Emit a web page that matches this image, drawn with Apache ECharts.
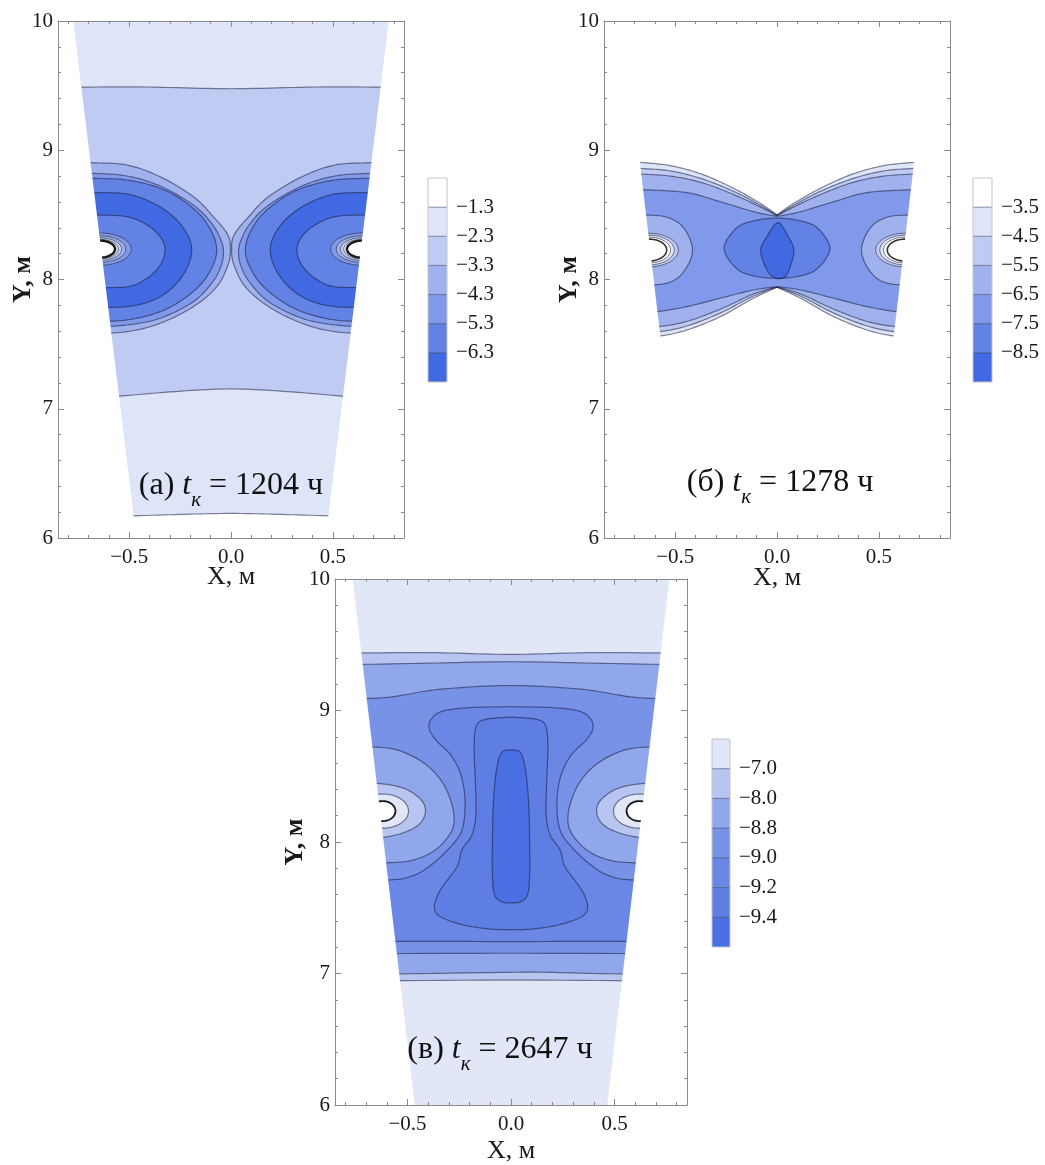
<!DOCTYPE html>
<html><head><meta charset="utf-8">
<script src="https://cdn.jsdelivr.net/npm/echarts@6/dist/echarts.min.js"></script>
<style>html,body{margin:0;padding:0;background:#fff}#c{width:1045px;height:1165px}</style>
</head><body><div id="c"></div>
<script>
// ---------------- tick values ----------------
const xMajor = [-0.5, 0, 0.5];
const xMinor = [-0.8,-0.7,-0.6,-0.4,-0.3,-0.2,-0.1,0.1,0.2,0.3,0.4,0.6,0.7,0.8];
const yMajor = [6, 7, 8, 9, 10];
const yMinor = [6.2,6.4,6.6,6.8,7.2,7.4,7.6,7.8,8.2,8.4,8.6,8.8,9.2,9.4,9.6,9.8];

// ---------------- captions ----------------
const capLetters = ['(а)', '(б)', '(в)'];
const capHours = [1204, 1278, 2647];

// ---------------- panel (а) ----------------
const aLevels = [-1.3, -2.3, -3.3, -4.3, -5.3, -6.3];
const aColors = ['#ffffff','#dfe5f9','#bfcbf3','#a0b2ee','#8199ea','#6282e5','#4169e1'];
const aEdge = [[-0.775, 10], [-0.465, 6]];
const aTopLine = [[-0.9,9.486],[-0.45,9.49],[0,9.476],[0.45,9.49],[0.9,9.486]];
const aMidLine = [[-0.7,7.075],[-0.3,7.13],[0,7.153],[0.3,7.13],[0.7,7.075]];
const aBotLine = [[-0.62,6.163],[-0.3,6.18],[0,6.19],[0.3,6.18],[0.62,6.163]];
const aEye1 = [[-0.8,8.92],[-0.683,8.904],[-0.511,8.886],[-0.348,8.795],[-0.185,8.641],[-0.087,8.486],[-0.015,8.344],[-0.003,8.228],[-0.015,8.112],[-0.07,7.944],[-0.185,7.79],[-0.348,7.661],[-0.511,7.596],[-0.7,7.58]];
const aEye2 = [[-0.8,8.83],[-0.68,8.822],[-0.511,8.801],[-0.348,8.723],[-0.185,8.576],[-0.095,8.435],[-0.048,8.3],[-0.037,8.2],[-0.052,8.09],[-0.095,7.971],[-0.185,7.828],[-0.348,7.70],[-0.511,7.648],[-0.7,7.63]];
const aEye3 = [[-0.8,8.79],[-0.675,8.783],[-0.511,8.77],[-0.348,8.706],[-0.217,8.59],[-0.119,8.435],[-0.07,8.228],[-0.119,8.022],[-0.217,7.867],[-0.348,7.751],[-0.511,7.687],[-0.7,7.675]];
const aEye4 = [[-0.8,8.675],[-0.67,8.672],[-0.511,8.662],[-0.381,8.59],[-0.283,8.486],[-0.217,8.357],[-0.193,8.228],[-0.217,8.087],[-0.283,7.944],[-0.381,7.841],[-0.511,7.79],[-0.7,7.785]];
const aEye5 = [[-0.8,8.5],[-0.662,8.499],[-0.511,8.486],[-0.413,8.422],[-0.348,8.331],[-0.324,8.228],[-0.348,8.112],[-0.413,8.009],[-0.511,7.944],[-0.7,7.94]];
// well rings: [cx, cy, rx, ry]
const aWell = [[-0.645,8.235,0.155,0.125],[-0.645,8.235,0.128,0.103],[-0.645,8.235,0.108,0.088],[-0.645,8.235,0.091,0.076],[-0.645,8.235,0.075,0.066]];

// ---------------- panel (б) ----------------
const bLevels = [-3.5, -4.5, -5.5, -6.5, -7.5, -8.5];
const bColors = ['#ffffff','#dfe5f9','#bfcbf3','#a0b2ee','#8199ea','#6282e5','#4169e1'];
const bEdge = [[-0.755, 10], [-0.457, 6]];
const bU1 = [[-0.8,8.92],[-0.676,8.907],[-0.525,8.881],[-0.37,8.815],[-0.214,8.706],[-0.083,8.59],[0,8.5]];
const bU2 = [[-0.8,8.87],[-0.675,8.86],[-0.525,8.84],[-0.37,8.78],[-0.21,8.68],[-0.083,8.575],[0,8.497]];
const bU3 = [[-0.8,8.825],[-0.675,8.816],[-0.525,8.80],[-0.37,8.75],[-0.21,8.655],[-0.083,8.562],[0,8.495]];
const bU4 = [[-0.8,8.70],[-0.66,8.695],[-0.443,8.672],[-0.279,8.602],[-0.116,8.525],[0,8.488]];
const bD1 = [[-0.7,7.555],[-0.574,7.563],[-0.443,7.609],[-0.279,7.712],[-0.116,7.855],[0,7.94]];
const bD2 = [[-0.7,7.59],[-0.58,7.596],[-0.443,7.64],[-0.279,7.74],[-0.116,7.872],[0,7.941]];
const bD3 = [[-0.7,7.63],[-0.585,7.635],[-0.443,7.675],[-0.279,7.77],[-0.116,7.888],[0,7.943]];
const bD4 = [[-0.7,7.745],[-0.59,7.751],[-0.443,7.79],[-0.279,7.855],[-0.116,7.919],[0,7.944]];
const bWellArc = [[-0.75,8.5],[-0.655,8.499],[-0.541,8.482],[-0.459,8.4],[-0.415,8.228],[-0.459,8.059],[-0.541,7.972],[-0.7,7.955]];
const bWell = [[-0.63,8.228,0.145,0.13],[-0.63,8.228,0.125,0.115],[-0.63,8.228,0.107,0.1],[-0.63,8.228,0.088,0.085]];
const bEll = [[-0.26,8.241],[-0.2,8.396],[-0.116,8.453],[0,8.475],[0.116,8.453],[0.2,8.396],[0.26,8.241],[0.2,8.087],[0.116,8.028],[0,8.009],[-0.116,8.028],[-0.2,8.087]];
const bCore = [[0.005,8.44],[0.055,8.331],[0.083,8.228],[0.065,8.099],[0.036,8.017],[-0.017,8.017],[-0.057,8.099],[-0.08,8.228],[-0.05,8.331]];

// ---------------- panel (в) ----------------
const vLevels = [-7.0, -8.0, -8.8, -9.0, -9.2, -9.4];
const vColors = ['#e2e7f8','#b8c5f1','#91a7eb','#7892e7','#6a87e6','#5e7ee4','#4a6fe2'];
const vEdge = [[-0.765, 10], [-0.465, 6]];
const vTop1 = [[-0.9,9.435],[-0.4,9.44],[0,9.427],[0.4,9.44],[0.9,9.435]];
const vTop2 = [[-0.9,9.345],[-0.4,9.36],[0,9.371],[0.4,9.36],[0.9,9.345]];
const vTop3 = [[-0.9,9.08],[-0.6,9.1],[-0.35,9.16],[0,9.19],[0.35,9.16],[0.6,9.1],[0.9,9.08]];
const vBot1 = [[-0.9,7.24],[-0.4,7.245],[0,7.242],[0.4,7.245],[0.9,7.24]];
const vBot2 = [[-0.9,7.15],[0,7.154],[0.9,7.15]];
const vBot3 = [[-0.9,6.99],[-0.4,7.0],[0.1,7.01],[0.4,7.0],[0.9,6.99]];
const vBot4 = [[-0.9,6.94],[0,6.95],[0.9,6.94]];
const vHg = [[-0.8,7.71],[-0.58,7.712],[-0.48,7.74],[-0.398,7.81],[-0.3,7.95],[-0.237,8.09],[-0.222,8.3],[-0.24,8.5],[-0.29,8.66],[-0.36,8.77],[-0.395,8.86],[-0.385,8.935],[-0.33,8.995],[-0.2,9.022],[0,9.029]];
const vIn = [[0,8.95],[-0.13,8.93],[-0.17,8.87],[-0.178,8.7],[-0.172,8.45],[-0.17,8.2],[-0.19,8.05],[-0.237,7.94],[-0.261,7.812],[-0.341,7.635],[-0.37,7.508],[-0.341,7.432],[-0.229,7.369],[-0.1,7.338],[0,7.333]];
const vCol = [[0,8.70],[-0.045,8.68],[-0.07,8.55],[-0.085,8.3],[-0.09,8.0],[-0.09,7.75],[-0.08,7.6],[-0.045,7.545],[0,7.536]];
const vW1 = [[-0.8,8.73],[-0.69,8.725],[-0.55,8.70],[-0.42,8.6],[-0.33,8.45],[-0.28,8.25],[-0.285,8.09],[-0.365,7.94],[-0.48,7.86],[-0.62,7.84],[-0.75,7.835]];
const vW2 = [[-0.75,8.45],[-0.64,8.446],[-0.52,8.41],[-0.44,8.33],[-0.413,8.24],[-0.44,8.14],[-0.52,8.07],[-0.64,8.03],[-0.75,8.03]];
const vWell = [[-0.62,8.235,0.125,0.13],[-0.62,8.235,0.062,0.076]];

// ---------------- helpers ----------------
const FONT = 'Liberation Serif';
const LINE = 'rgba(25,30,60,0.55)';
const FRAME = '#8a8a8a';
function fmt1(v) { return (v < 0 ? '\u2212' : '') + Math.abs(v).toFixed(1); }
function mx(p) { return p.map(q => [-q[0], q[1]]); }
function rv(p) { return p.slice().reverse(); }

function crPts(px, closed, n) {
  const m = px.length;
  if (m < 3 && !closed) return px.slice();
  const get = i => closed ? px[(i + m) % m] : px[Math.max(0, Math.min(m - 1, i))];
  const segs = closed ? m : m - 1;
  const out = [];
  for (let i = 0; i < segs; i++) {
    const p0 = get(i - 1), p1 = get(i), p2 = get(i + 1), p3 = get(i + 2);
    for (let k = 0; k < n; k++) {
      const t = k / n, t2 = t * t, t3 = t2 * t;
      const f = (a, b, c, d) => 0.5 * (2 * b + (-a + c) * t + (2 * a - 5 * b + 4 * c - d) * t2 + (-a + 3 * b - 3 * c + d) * t3);
      out.push([f(p0[0], p1[0], p2[0], p3[0]), f(p0[1], p1[1], p2[1], p3[1])]);
    }
  }
  if (!closed) out.push(px[m - 1]);
  return out;
}
function shapePts(api, s) {
  if (s.ell) {
    const [cx, cy, rx, ry] = s.ell;
    const c = api.coord([cx, cy]), r = api.coord([cx + rx, cy + ry]);
    const RX = r[0] - c[0], RY = c[1] - r[1];
    const pts = [];
    for (let k = 0; k < 72; k++) { const a = k / 72 * Math.PI * 2; pts.push([c[0] + RX * Math.cos(a), c[1] + RY * Math.sin(a)]); }
    return pts;
  }
  if (s.loop) return crPts(s.loop.map(p => api.coord(p)), true, 12);
  let out = [];
  s.pieces.forEach(pc => { out = out.concat(crPts(pc.map(p => api.coord(p)), false, 12)); });
  return out;
}
function closedSpec(s) { return !!(s.ell || s.loop); }
function edgeMasks(edge) {
  const l = [[-1.3, edge[0][1]], edge[0], edge[1], [-1.3, edge[1][1]]];
  return [l, mx(l)];
}
function panelRender(fills, lines, masks) {
  return function (params, api) {
    const ch = [];
    fills.forEach(f => ch.push({ type: 'polygon', shape: { points: shapePts(api, f.s) }, style: { fill: f.c, stroke: 'none' } }));
    lines.forEach(l => ch.push({ type: closedSpec(l.s) ? 'polygon' : 'polyline', shape: { points: shapePts(api, l.s) },
      style: { fill: 'none', stroke: l.k || LINE, lineWidth: l.w || 1.2 } }));
    masks.forEach(mk => ch.push({ type: 'polygon', shape: { points: mk.map(p => api.coord(p)) }, style: { fill: '#ffffff', stroke: 'none' } }));
    return { type: 'group', children: ch };
  };
}
const bigTop = [[-1.2, 10.4], [1.2, 10.4]];

// ---- panel (а) layers ----
const aFills = [{ c: aColors[1], s: { pieces: [bigTop, rv(aBotLine)] } },
                { c: aColors[2], s: { pieces: [aTopLine, rv(aMidLine)] } }];
const aLines = [{ s: { pieces: [aTopLine] } }, { s: { pieces: [aMidLine] } }, { s: { pieces: [aBotLine] } }];
[p => p, mx].forEach(side => {
  [[aEye1, 3], [aEye2, 4], [aEye3, 5], [aEye4, 6], [aEye5, 5]].forEach(([e, k]) => {
    aFills.push({ c: aColors[k], s: { pieces: [side(e)] } });
    aLines.push({ s: { pieces: [side(e)] } });
  });
  aWell.forEach((w, i) => {
    const e = side === mx ? [-w[0], w[1], w[2], w[3]] : w;
    aFills.push({ c: aColors[4 - i], s: { ell: e } });
    aLines.push({ s: { ell: e }, k: i === 4 ? '#1a1a1a' : 'rgba(40,40,50,0.6)', w: i === 4 ? 2.4 : 1 });
  });
});

// ---- panel (б) layers ----
const bFills = [], bLines = [];
[[bU1, bD1, 1], [bU2, bD2, 2], [bU3, bD3, 3], [bU4, bD4, 4]].forEach(([u, d, k]) => {
  bFills.push({ c: bColors[k], s: { pieces: [u, rv(mx(u)), mx(d), rv(d)] } });
  bLines.push({ s: { pieces: [u, rv(mx(u))] } }, { s: { pieces: [d, rv(mx(d))] } });
});
[p => p, mx].forEach(side => {
  bFills.push({ c: bColors[3], s: { pieces: [side(bWellArc)] } });
  bLines.push({ s: { pieces: [side(bWellArc)] } });
  bWell.forEach((w, i) => {
    const e = side === mx ? [-w[0], w[1], w[2], w[3]] : w;
    bFills.push({ c: bColors[Math.max(0, 2 - i)], s: { ell: e } });
    bLines.push({ s: { ell: e }, k: i === 3 ? '#333' : 'rgba(40,40,50,0.6)', w: i === 3 ? 1.6 : 1 });
  });
});
bFills.push({ c: bColors[5], s: { loop: bEll } }, { c: bColors[6], s: { loop: bCore } });
bLines.push({ s: { loop: bEll } }, { s: { loop: bCore } });

// ---- panel (в) layers ----
const vFills = [
  { c: vColors[0], s: { pieces: [bigTop, [[1.2, 5.6], [-1.2, 5.6]]] } },
  { c: vColors[1], s: { pieces: [vTop1, rv(vBot4)] } },
  { c: vColors[2], s: { pieces: [vTop2, rv(vBot3)] } },
  { c: vColors[3], s: { pieces: [vTop3, rv(vBot2)] } },
  { c: vColors[4], s: { pieces: [vHg, rv(mx(vHg)), rv(vBot1)] } },
  { c: vColors[5], s: { pieces: [vIn, rv(mx(vIn))] } },
  { c: vColors[6], s: { pieces: [vCol, rv(mx(vCol))] } }
];
const vLines = [vTop1, vTop2, vTop3, vBot1, vBot2, vBot3, vBot4].map(l => ({ s: { pieces: [l] } }));
vLines.push({ s: { pieces: [vHg, rv(mx(vHg))] } }, { s: { pieces: [vIn, rv(mx(vIn))] } }, { s: { pieces: [vCol, rv(mx(vCol))] } });
[p => p, mx].forEach(side => {
  vFills.push({ c: vColors[2], s: { pieces: [side(vW1)] } }, { c: vColors[1], s: { pieces: [side(vW2)] } });
  vLines.push({ s: { pieces: [side(vW1)] } }, { s: { pieces: [side(vW2)] } });
  vWell.forEach((w, i) => {
    const e = side === mx ? [-w[0], w[1], w[2], w[3]] : w;
    vFills.push({ c: i === 0 ? vColors[0] : '#ffffff', s: { ell: e } });
    vLines.push({ s: { ell: e }, k: i === 1 ? '#1a1a1a' : LINE, w: i === 1 ? 1.8 : 1.2 });
  });
});

// ---------------- axes ----------------
const labelStyle = { fontFamily: FONT, fontSize: 21, color: '#1a1a1a' };
function frameAxes(gi, gapX, gapY) {
  const ls = { color: FRAME, width: 1 };
  const base = { gridIndex: gi, type: 'value', splitLine: { show: false }, z: 10 };
  const xb = Object.assign({}, base, { min: -0.85, max: 0.85 });
  const yb = Object.assign({}, base, { min: 6, max: 10 });
  const xs = [
    Object.assign({}, xb, { position: 'bottom', axisLine: { show: true, onZero: false, lineStyle: ls },
      axisTick: { inside: true, length: 6, customValues: xMajor, lineStyle: ls },
      axisLabel: Object.assign({ customValues: xMajor, formatter: fmt1, margin: 9 }, labelStyle),
      name: 'X, м', nameLocation: 'middle', nameGap: gapX, nameMoveOverlap: false,
      nameTextStyle: { fontFamily: FONT, fontSize: 26, color: '#1a1a1a' } }),
    Object.assign({}, xb, { position: 'bottom', axisLine: { show: false, onZero: false }, axisTick: { inside: true, length: 3, customValues: xMinor, lineStyle: ls }, axisLabel: { show: false } }),
    Object.assign({}, xb, { position: 'top', axisLine: { show: true, onZero: false, lineStyle: ls }, axisTick: { inside: true, length: 6, customValues: xMajor, lineStyle: ls }, axisLabel: { show: false } }),
    Object.assign({}, xb, { position: 'top', axisLine: { show: false, onZero: false }, axisTick: { inside: true, length: 3, customValues: xMinor, lineStyle: ls }, axisLabel: { show: false } })
  ];
  const ys = [
    Object.assign({}, yb, { position: 'left', axisLine: { show: true, onZero: false, lineStyle: ls },
      axisTick: { inside: true, length: 6, customValues: yMajor, lineStyle: ls },
      axisLabel: Object.assign({ customValues: yMajor, formatter: v => String(v), margin: 5 }, labelStyle),
      name: 'Y, м', nameLocation: 'middle', nameGap: gapY, nameMoveOverlap: false,
      nameTextStyle: { fontFamily: FONT, fontSize: 26, fontWeight: 'bold', color: '#1a1a1a' } }),
    Object.assign({}, yb, { position: 'left', axisLine: { show: false, onZero: false }, axisTick: { inside: true, length: 3, customValues: yMinor, lineStyle: ls }, axisLabel: { show: false } }),
    Object.assign({}, yb, { position: 'right', axisLine: { show: true, onZero: false, lineStyle: ls }, axisTick: { inside: true, length: 6, customValues: yMajor, lineStyle: ls }, axisLabel: { show: false } }),
    Object.assign({}, yb, { position: 'right', axisLine: { show: false, onZero: false }, axisTick: { inside: true, length: 3, customValues: yMinor, lineStyle: ls }, axisLabel: { show: false } })
  ];
  return { xs, ys };
}
function cbAxes(gi, levels) {
  return {
    x: { gridIndex: gi, type: 'value', min: 0, max: 1, show: false },
    y: { gridIndex: gi, type: 'value', min: 0, max: 7, inverse: true, position: 'right',
      axisLine: { show: false }, axisTick: { show: false }, splitLine: { show: false },
      axisLabel: Object.assign({ customValues: [1, 2, 3, 4, 5, 6], formatter: v => fmt1(levels[v - 1]), margin: 9 }, labelStyle) }
  };
}
function cbRender(colors) {
  return function (params, api) {
    const i = api.value(1);
    const p0 = api.coord([0, i]), p1 = api.coord([1, i + 1]);
    const ch = [{ type: 'rect', shape: { x: p0[0], y: Math.min(p0[1], p1[1]), width: p1[0] - p0[0], height: Math.abs(p1[1] - p0[1]) }, style: { fill: colors[i] } }];
    if (i > 0) ch.push({ type: 'line', shape: { x1: p0[0], y1: p0[1], x2: p1[0], y2: p0[1] }, style: { stroke: 'rgba(40,45,70,0.5)', lineWidth: 1 } });
    if (i === colors.length - 1) {
      const q0 = api.coord([0, 0]);
      ch.push({ type: 'rect', shape: { x: q0[0], y: Math.min(q0[1], p1[1]), width: p1[0] - q0[0], height: Math.abs(p1[1] - q0[1]) }, style: { fill: 'none', stroke: '#c4c4c4', lineWidth: 1 } });
    }
    return { type: 'group', children: ch };
  };
}

const fA = frameAxes(0, 26, 22), fB = frameAxes(1, 27, 22), fV = frameAxes(2, 33, 27);
const cA = cbAxes(3, aLevels), cB = cbAxes(4, bLevels), cV = cbAxes(5, vLevels);

function caption(i, x, y) {
  return { type: 'text', x: x, y: y, z: 20,
    style: { text: '{n|' + capLetters[i] + ' }{i|t}{s|к}{n| = ' + capHours[i] + ' ч}', align: 'center', verticalAlign: 'middle',
      rich: { n: { fontFamily: FONT, fontSize: 32, lineHeight: 50, fill: '#111' },
              i: { fontFamily: FONT, fontSize: 32, fontStyle: 'italic', lineHeight: 50, fill: '#111' },
              s: { fontFamily: FONT, fontSize: 21, fontStyle: 'italic', lineHeight: 20, verticalAlign: 'bottom', fill: '#111' } } } };
}

const option = {
  animation: false,
  backgroundColor: '#ffffff',
  grid: [
    { left: 58, top: 21, width: 346, height: 517 },
    { left: 604, top: 21, width: 346, height: 517 },
    { left: 335, top: 579, width: 352, height: 526 },
    { left: 428, top: 178, width: 19, height: 204 },
    { left: 973, top: 178, width: 19, height: 204 },
    { left: 712, top: 739, width: 18, height: 208 }
  ],
  xAxis: [].concat(fA.xs, fB.xs, fV.xs, [cA.x, cB.x, cV.x]),
  yAxis: [].concat(fA.ys, fB.ys, fV.ys, [cA.y, cB.y, cV.y]),
  series: [
    { type: 'custom', xAxisIndex: 0, yAxisIndex: 0, clip: true, data: [[0, 8]], renderItem: panelRender(aFills, aLines, edgeMasks(aEdge)) },
    { type: 'custom', xAxisIndex: 4, yAxisIndex: 4, clip: true, data: [[0, 8]], renderItem: panelRender(bFills, bLines, edgeMasks(bEdge)) },
    { type: 'custom', xAxisIndex: 8, yAxisIndex: 8, clip: true, data: [[0, 8]], renderItem: panelRender(vFills, vLines, edgeMasks(vEdge)) },
    { type: 'custom', xAxisIndex: 12, yAxisIndex: 12, data: aColors.map((c, i) => [0.5, i]), renderItem: cbRender(aColors) },
    { type: 'custom', xAxisIndex: 13, yAxisIndex: 13, data: bColors.map((c, i) => [0.5, i]), renderItem: cbRender(bColors) },
    { type: 'custom', xAxisIndex: 14, yAxisIndex: 14, data: vColors.map((c, i) => [0.5, i]), renderItem: cbRender(vColors) }
  ],
  graphic: [caption(0, 231, 486), caption(1, 780, 483), caption(2, 500, 1050)]
};
const chart = echarts.init(document.getElementById('c'), null, { renderer: 'canvas' });
chart.setOption(option);
</script>
</body></html>
